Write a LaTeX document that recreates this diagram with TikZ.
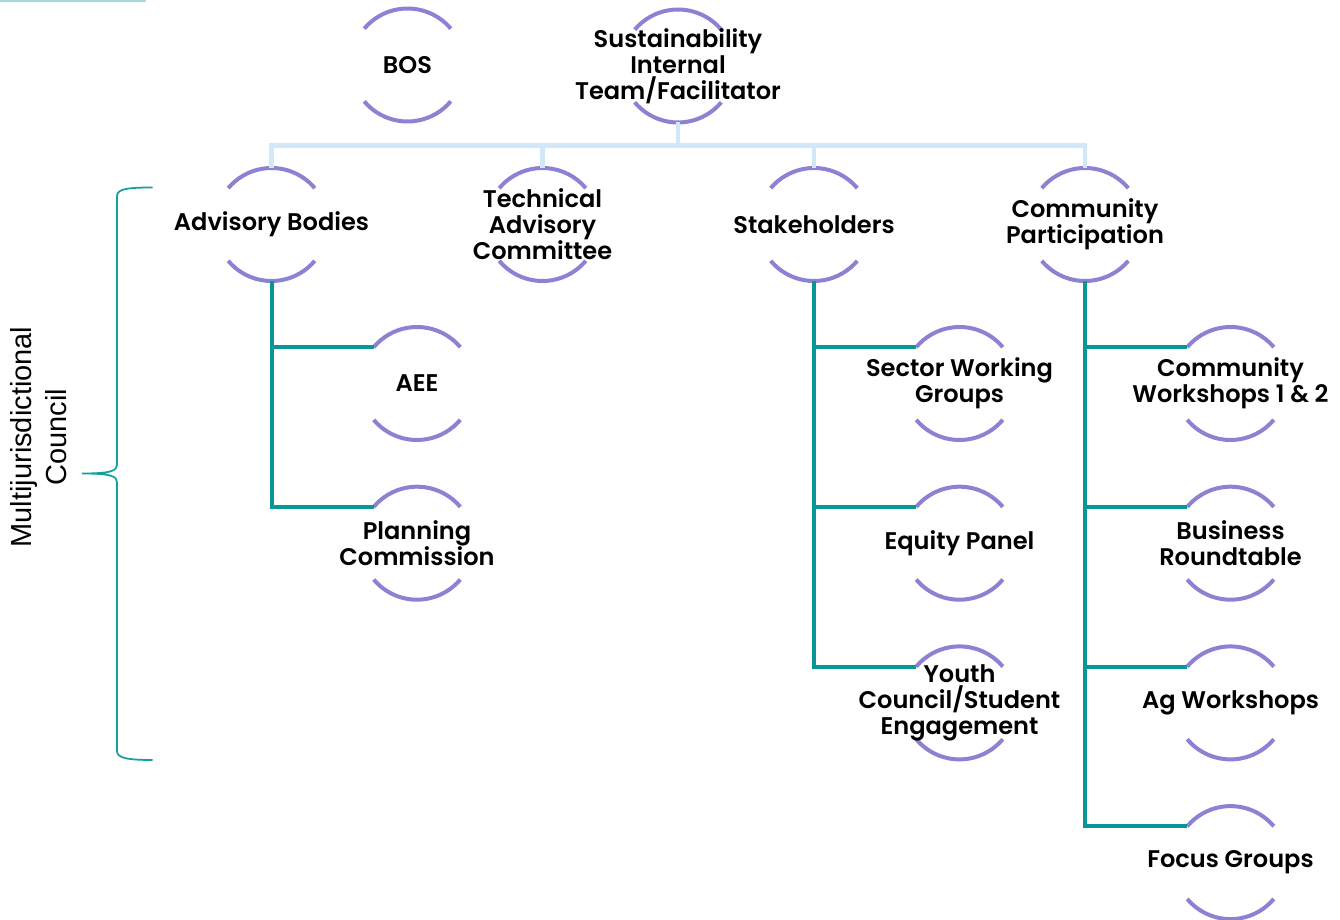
\documentclass[tikz,border=0pt]{standalone}
\usepackage{fontspec}
\setmainfont{Poppins}[BoldFont={* SemiBold}]
\setsansfont{Liberation Sans}
\usetikzlibrary{positioning}
\definecolor{ringpurple}{RGB}{140,130,212}
\definecolor{branchteal}{RGB}{8,150,150}
\definecolor{barblue}{RGB}{208,232,250}
\definecolor{braceteal}{RGB}{20,160,160}
\definecolor{rulemint}{RGB}{160,220,216}
\pgfdeclarelayer{background}
\pgfsetlayers{background,main}

\begin{document}
\begin{tikzpicture}[
        ring/.style={rectangle, minimum height=2.26cm, inner sep=0pt, align=center, font=\fontsize{13.7}{14.8}\selectfont\bfseries},
        ringarc/.style={draw=ringpurple, line width=0.08cm},
        topline/.style={draw=barblue, line width=0.09cm},
        branch/.style={draw=branchteal, line width=0.08cm},
        bracket/.style={draw=braceteal, line width=0.035cm},
        node distance=0.92cm
    ]
        \useasboundingbox (0,0) rectangle (26.8,-18.4);
        \draw[draw=rulemint, line width=0.04cm] (0,-0.02) -- (2.92,-0.02);

        % Top level
        \node[ring] (bos) at (8.15,-1.30) {BOS};
        \node[ring] (sit) at (13.56,-1.32) {Sustainability\\Internal\\Team/Facilitator};

        % Second level
        \node[ring] (ab) at (5.43,-4.49) {Advisory Bodies};
        \node[ring] (tac) at (10.85,-4.49) {Technical\\Advisory\\Committee};
        \node[ring] (sh) at (16.28,-4.49) {Stakeholders};
        \node[ring] (cp) at (21.70,-4.49) {Community\\Participation};

        % Third level
        \node[ring] (aee) at (8.34,-7.67) {AEE};
        \node[ring, below=of aee] (pc) {Planning\\Commission};
        \node[ring] (swg) at (19.19,-7.67) {Sector Working\\Groups};
        \node[ring, below=of swg] (ep) {Equity Panel};
        \node[ring, below=of ep] (yc) {Youth\\Council/Student\\Engagement};
        \node[ring] (cw) at (24.61,-7.67) {Community\\Workshops 1 \& 2};
        \node[ring, below=of cw] (br) {Business\\Roundtable};
        \node[ring, below=of br] (aw) {Ag Workshops};
        \node[ring, below=of aw] (fg) {Focus Groups};

        % Council label
        \node[rotate=90, align=center, font=\sffamily\fontsize{16.5}{19.9}\selectfont] (mjc) at (0.78,-8.74) {Multijurisdictional\\Council};

        \begin{pgfonlayer}{background}
            % Arcs
            \foreach \n in {bos,sit,ab,tac,sh,cp,aee,pc,swg,ep,yc,cw,br,aw,fg} {
                \draw[ringarc] (\n.center) ++(40:1.13) arc[start angle=40, end angle=140, radius=1.13];
                \draw[ringarc] (\n.center) ++(220:1.13) arc[start angle=220, end angle=320, radius=1.13];
                \path (\n.center) ++(0,1.13) coordinate (\n-t)
                      (\n.center) ++(0,-1.13) coordinate (\n-b)
                      (\n.center) ++(140:1.13) coordinate (\n-l);
            }

            % Top bar
            \coordinate (bar) at (0,-2.91);
            \draw[topline] (sit-b) -- (sit-b |- bar);
            \draw[topline] (ab-t) |- (cp-t |- bar) -- (cp-t);
            \draw[topline] (tac-t) -- (tac-t |- bar);
            \draw[topline] (sh-t) -- (sh-t |- bar);

            % Branches
            \draw[branch] (ab-b) |- (aee-l);
            \draw[branch] (ab-b) |- (pc-l);
            \draw[branch] (sh-b) |- (swg-l);
            \draw[branch] (sh-b) |- (ep-l);
            \draw[branch] (sh-b) |- (yc-l);
            \draw[branch] (cp-b) |- (cw-l);
            \draw[branch] (cp-b) |- (br-l);
            \draw[branch] (cp-b) |- (aw-l);
            \draw[branch] (cp-b) |- (fg-l);
        \end{pgfonlayer}

        % Bracket
        \draw[bracket] (3.05,-3.75) .. controls (2.55,-3.75) and (2.34,-3.78) .. (2.34,-3.92)
            -- (2.34,-9.30) .. controls (2.34,-9.42) and (2.20,-9.47) .. (1.64,-9.47)
            .. controls (2.20,-9.47) and (2.34,-9.52) .. (2.34,-9.64)
            -- (2.34,-15.02) .. controls (2.34,-15.16) and (2.55,-15.20) .. (3.05,-15.20);
    \end{tikzpicture}
\end{document}
